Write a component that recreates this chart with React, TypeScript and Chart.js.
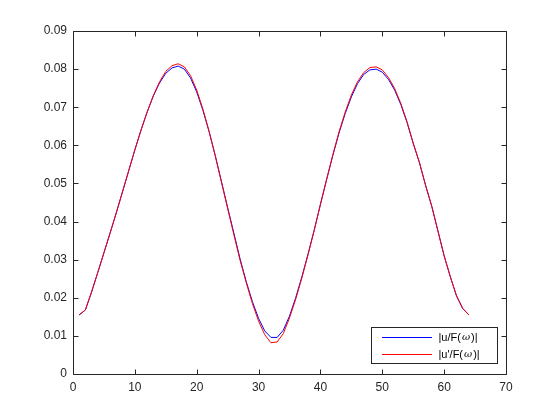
import React, { useEffect, useRef } from "react";
import { Chart, registerables } from "chart.js";

Chart.register(...registerables);

const xValues = [
  1, 2, 3, 4, 5, 6, 7, 8, 9, 10, 11, 12, 13, 14, 15, 16,
  17, 18, 19, 20, 21, 22, 23, 24, 25, 26, 27, 28, 29, 30, 31, 32,
  33, 34, 35, 36, 37, 38, 39, 40, 41, 42, 43, 44, 45, 46, 47, 48,
  49, 50, 51, 52, 53, 54, 55, 56, 57, 58, 59, 60, 61, 62, 63, 64,
];

const uValues = [
  0.0155, 0.0168, 0.0215, 0.0266, 0.0318, 0.0370, 0.0423, 0.0478,
  0.0533, 0.0588, 0.0640, 0.0688, 0.0730, 0.0764, 0.0789, 0.0803,
  0.0808, 0.0800, 0.0777, 0.0740, 0.0692, 0.0636, 0.0573, 0.0505,
  0.0437, 0.0370, 0.0303, 0.0243, 0.0190, 0.0146, 0.0113, 0.0096,
  0.0096, 0.0115, 0.0152, 0.0200, 0.0255, 0.0315, 0.0378, 0.0445,
  0.0510, 0.0573, 0.0632, 0.0683, 0.0727, 0.0762, 0.0786, 0.0798,
  0.0800, 0.0792, 0.0773, 0.0745, 0.0707, 0.0660, 0.0605, 0.0555,
  0.0495, 0.0440, 0.0375, 0.0310, 0.0255, 0.0205, 0.0172, 0.0155,
];

const upValues = [
  0.0155, 0.0168, 0.0215, 0.0266, 0.0318, 0.0370, 0.0423, 0.0478,
  0.0533, 0.0588, 0.0640, 0.0688, 0.0731, 0.0767, 0.0794, 0.0809,
  0.0814, 0.0806, 0.0783, 0.0745, 0.0695, 0.0637, 0.0572, 0.0503,
  0.0434, 0.0366, 0.0299, 0.0240, 0.0185, 0.0139, 0.0103, 0.0082,
  0.0084, 0.0106, 0.0147, 0.0196, 0.0252, 0.0313, 0.0377, 0.0445,
  0.0511, 0.0575, 0.0635, 0.0687, 0.0732, 0.0767, 0.0791, 0.0804,
  0.0806, 0.0798, 0.0778, 0.0749, 0.0710, 0.0662, 0.0606, 0.0555,
  0.0495, 0.0440, 0.0375, 0.0310, 0.0255, 0.0205, 0.0172, 0.0155,
];

const seriesLabels = ["|u/F(ω)|", "|u'/F(ω)|"];
const seriesColors = ["#0000ff", "#ff0000"];

const xTicks = [0, 10, 20, 30, 40, 50, 60, 70];
const yTicks = [0, 0.01, 0.02, 0.03, 0.04, 0.05, 0.06, 0.07, 0.08, 0.09];

const AXIS_COLOR = "#262626";
const FONT_FAMILY = "'Liberation Sans', Arial, Helvetica, sans-serif";
const FONT_SIZE = 12;
const LEGEND_FONT_SIZE = 11;

const framePlugin = {
  id: "matlabFrame",
  afterDraw(chart: any) {
    const { ctx, chartArea } = chart;
    const xs = chart.scales.x;
    const ys = chart.scales.y;
    const L = Math.round(chartArea.left) + 0.5;
    const R = Math.round(chartArea.right) + 0.5;
    const T = Math.round(chartArea.top) + 0.5;
    const B = Math.round(chartArea.bottom) + 0.5;
    const tl = 5;
    ctx.save();
    ctx.strokeStyle = AXIS_COLOR;
    ctx.lineWidth = 1;
    ctx.beginPath();
    ctx.rect(L, T, R - L, B - T);
    ctx.stroke();
    ctx.beginPath();
    xs.ticks.forEach((t: any) => {
      const px = Math.round(xs.getPixelForValue(t.value)) + 0.5;
      ctx.moveTo(px, B);
      ctx.lineTo(px, B - tl);
      ctx.moveTo(px, T);
      ctx.lineTo(px, T + tl);
    });
    ys.ticks.forEach((t: any) => {
      const py = Math.round(ys.getPixelForValue(t.value)) + 0.5;
      ctx.moveTo(L, py);
      ctx.lineTo(L + tl, py);
      ctx.moveTo(R, py);
      ctx.lineTo(R - tl, py);
    });
    ctx.stroke();

    // legend (bottom-right, inside axes)
    const boxW = 126;
    const boxH = 36;
    const bx = Math.round(chartArea.right) - 9 - boxW + 0.5;
    const by = Math.round(chartArea.bottom) - 11 - boxH + 0.5;
    ctx.fillStyle = "#ffffff";
    ctx.fillRect(bx, by, boxW, boxH);
    ctx.strokeStyle = AXIS_COLOR;
    ctx.strokeRect(bx, by, boxW, boxH);
    const rowY = [by + 9.5, by + 26.5];
    chart.data.datasets.forEach((ds: any, i: number) => {
      const y = Math.round(rowY[i]) + 0.5;
      ctx.strokeStyle = ds.borderColor;
      ctx.lineWidth = 1;
      ctx.beginPath();
      ctx.moveTo(bx + 10.5, y);
      ctx.lineTo(bx + 60.5, y);
      ctx.stroke();
      const parts = String(ds.label).split("ω");
      let tx = bx + 67;
      ctx.fillStyle = "#000000";
      ctx.textBaseline = "middle";
      ctx.textAlign = "left";
      parts.forEach((p: string, k: number) => {
        ctx.font = `${LEGEND_FONT_SIZE}px ${FONT_FAMILY}`;
        ctx.fillText(p, tx, y);
        tx += ctx.measureText(p).width;
        if (k < parts.length - 1) {
          ctx.font = `italic ${LEGEND_FONT_SIZE - 1}px 'DejaVu Serif', serif`;
          ctx.fillText("ω", tx + 1, y);
          tx += ctx.measureText("ω").width + 2;
        }
      });
    });
    ctx.restore();
  },
};

export default function App() {
  const canvasRef = useRef<HTMLCanvasElement | null>(null);

  useEffect(() => {
    document.body.style.margin = "0";
    const canvas = canvasRef.current;
    if (!canvas) return;
    const datasets = [uValues, upValues].map((vals, i) => ({
      label: seriesLabels[i],
      data: xValues.map((x, j) => ({ x, y: vals[j] })),
      borderColor: seriesColors[i],
      backgroundColor: seriesColors[i],
      borderWidth: 1,
      pointRadius: 0,
      tension: 0,
      fill: false,
      order: i === 0 ? 1 : 0,
    }));
    const chart = new Chart(canvas, {
      type: "line",
      data: { datasets },
      plugins: [framePlugin],
      options: {
        animation: false,
        responsive: false,
        devicePixelRatio: 1,
        layout: { padding: { left: 0, top: 31, right: 54, bottom: 0 } },
        plugins: {
          legend: { display: false },
          tooltip: { enabled: false },
        },
        scales: {
          x: {
            type: "linear",
            min: 0,
            max: 70,
            afterBuildTicks: (s: any) => {
              s.ticks = xTicks.map((v) => ({ value: v }));
            },
            afterFit: (s: any) => {
              s.height = 46;
            },
            grid: { display: false, drawTicks: false },
            border: { display: false },
            ticks: {
              color: AXIS_COLOR,
              padding: 6,
              font: { family: FONT_FAMILY, size: FONT_SIZE },
              callback: (v: any) => String(v),
            },
          },
          y: {
            type: "linear",
            min: 0,
            max: 0.09,
            afterBuildTicks: (s: any) => {
              s.ticks = yTicks.map((v) => ({ value: v }));
            },
            afterFit: (s: any) => {
              s.width = 73;
            },
            grid: { display: false, drawTicks: false },
            border: { display: false },
            ticks: {
              color: AXIS_COLOR,
              padding: 6,
              font: { family: FONT_FAMILY, size: FONT_SIZE },
              callback: (v: any) => (Number(v) === 0 ? "0" : Number(v).toFixed(2)),
            },
          },
        },
      },
    });
    return () => chart.destroy();
  }, []);

  return (
    <div style={{ width: 560, height: 420, background: "#ffffff" }}>
      <canvas ref={canvasRef} width={560} height={420} />
    </div>
  );
}
